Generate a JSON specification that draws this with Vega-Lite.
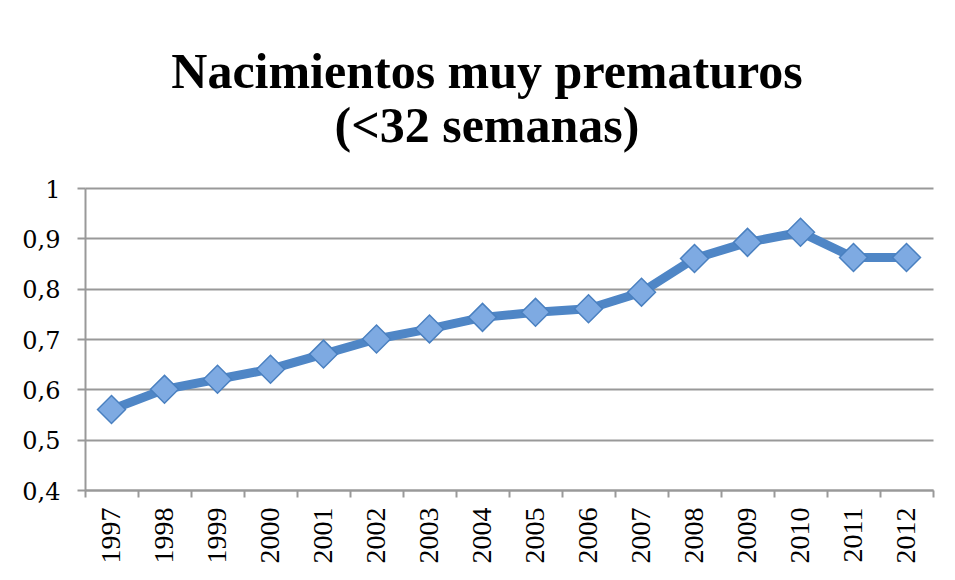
{
  "$schema": "https://vega.github.io/schema/vega-lite/v6.json",
  "autosize": "none",
  "width": 848,
  "height": 302,
  "padding": {"left": 85, "top": 188, "right": 22, "bottom": 90},
  "background": "white",
  "title": {
    "text": ["Nacimientos muy prematuros", "(<32 semanas)"],
    "font": "Liberation Serif",
    "fontSize": 50,
    "fontWeight": "bold",
    "color": "black",
    "anchor": "middle",
    "lineHeight": 54,
    "offset": 26,
    "dx": -22
  },
  "data": {
    "values": [
      {"year": "1997", "value": 0.56},
      {"year": "1998", "value": 0.60},
      {"year": "1999", "value": 0.62},
      {"year": "2000", "value": 0.64},
      {"year": "2001", "value": 0.67},
      {"year": "2002", "value": 0.70},
      {"year": "2003", "value": 0.72},
      {"year": "2004", "value": 0.743},
      {"year": "2005", "value": 0.753},
      {"year": "2006", "value": 0.76},
      {"year": "2007", "value": 0.793},
      {"year": "2008", "value": 0.86},
      {"year": "2009", "value": 0.892},
      {"year": "2010", "value": 0.912},
      {"year": "2011", "value": 0.862},
      {"year": "2012", "value": 0.862}
    ]
  },
  "encoding": {
    "x": {
      "field": "year",
      "type": "ordinal",
      "bandPosition": 0.5,
      "scale": {"type": "band", "paddingInner": 0, "paddingOuter": 0},
      "axis": {
        "title": null,
        "labelAngle": -90,
        "labelAlign": "right",
        "labelBaseline": "middle",
        "labelFont": "Liberation Serif",
        "labelFontSize": 28,
        "labelColor": "black",
        "labelPadding": 10,
        "tickBand": "extent",
        "tickSize": 7,
        "tickColor": "#999999",
        "tickWidth": 2,
        "domainColor": "#999999",
        "domainWidth": 2,
        "grid": false
      }
    },
    "y": {
      "field": "value",
      "type": "quantitative",
      "scale": {"domain": [0.4, 1], "nice": false, "zero": false},
      "axis": {
        "title": null,
        "values": [0.4, 0.5, 0.6, 0.7, 0.8, 0.9, 1],
        "labelExpr": "replace(format(datum.value, '.1~f'), '.', ',')",
        "labelFont": "DejaVu Serif",
        "labelFontSize": 24,
        "labelColor": "black",
        "labelPadding": 17,
        "labelBaseline": "middle",
        "labelOffset": 2,
        "tickSize": 8,
        "tickColor": "#999999",
        "tickWidth": 2,
        "domainColor": "#999999",
        "domainWidth": 2,
        "grid": true,
        "gridColor": "#999999",
        "gridWidth": 2
      }
    }
  },
  "layer": [
    {
      "mark": {"type": "line", "color": "#4f86c6", "strokeWidth": 9, "strokeJoin": "round"}
    },
    {
      "mark": {"type": "point", "shape": "diamond", "size": 780, "filled": true, "fill": "#7eaae2", "stroke": "#4a80c0", "strokeWidth": 1.5, "opacity": 1}
    }
  ],
  "config": {
    "view": {"stroke": null}
  }
}
